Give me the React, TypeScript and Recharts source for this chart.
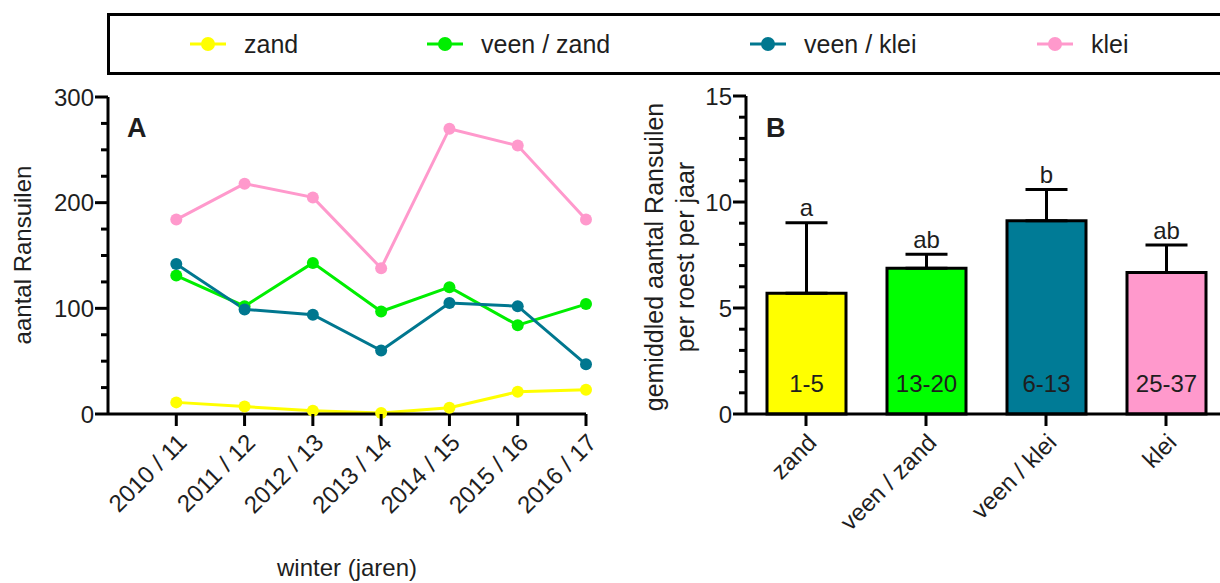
import {
  Bar,
  BarChart,
  Cell,
  ErrorBar,
  LabelList,
  Line,
  LineChart,
  XAxis,
  YAxis,
} from "recharts";

// panel A: number of long-eared owls per winter, per soil type
const WINTERS = ["2010 / 11", "2011 / 12", "2012 / 13", "2013 / 14", "2014 / 15", "2015 / 16", "2016 / 17"];
const ZAND = [11, 7, 3, 1, 6, 21, 23];
const VEEN_ZAND = [131, 102, 143, 97, 120, 84, 104];
const VEEN_KLEI = [142, 99, 94, 60, 105, 102, 47];
const KLEI = [184, 218, 205, 138, 270, 254, 184];
const A_TICKS = [0, 25, 50, 75, 100, 125, 150, 175, 200, 225, 250, 275, 300];

// panel B: mean per roost per year
const SOILS = ["zand", "veen / zand", "veen / klei", "klei"];
const MEANS = [5.7, 6.87, 9.11, 6.67];
const ERRORS = [3.32, 0.66, 1.48, 1.3];
const LETTERS = ["a", "ab", "b", "ab"];
const ROOSTS = ["1-5", "13-20", "6-13", "25-37"];
const B_TICKS = [0, 1, 2, 3, 4, 5, 6, 7, 8, 9, 10, 11, 12, 13, 14, 15];

const SERIES = [
  { key: "zand", name: "zand", line: "#ffff00", bar: "#ffff00", values: ZAND },
  { key: "veenZand", name: "veen / zand", line: "#00ee00", bar: "#00ff00", values: VEEN_ZAND },
  { key: "veenKlei", name: "veen / klei", line: "#00778f", bar: "#007b96", values: VEEN_KLEI },
  { key: "klei", name: "klei", line: "#ff99cc", bar: "#ff99cc", values: KLEI },
];
const LEGEND_X = [190, 427, 750, 1037];

const FONT = "'Liberation Sans', Arial, sans-serif";
const INK = "#1e1e1e";

const lineData = WINTERS.map((_, i) => {
  const row: Record<string, number> = { i };
  SERIES.forEach((s) => (row[s.key] = s.values[i]));
  return row;
});

const barData = SOILS.map((soil, i) => ({
  soil,
  mean: MEANS[i],
  err: [0, ERRORS[i]],
  errTop: ERRORS[i],
  letter: LETTERS[i],
  roost: ROOSTS[i],
}));

function YTick(props: any, majorEvery: number) {
  const { x, y, payload } = props;
  const major = payload.value % majorEvery === 0;
  return (
    <g>
      <line x1={x - (major ? 13 : 7)} x2={x} y1={y} y2={y} stroke="#000" strokeWidth={3} />
      {major && (
        <text x={x - 14} y={y} textAnchor="end" dominantBaseline="central" fontSize={24} fill={INK} fontFamily={FONT}>
          {payload.value}
        </text>
      )}
    </g>
  );
}

function XTick(props: any, label: string) {
  const { x, y } = props;
  const ax = x + 6;
  const ay = y + 24;
  return (
    <g>
      <line x1={x} x2={x} y1={y} y2={y + 12} stroke="#000" strokeWidth={3} />
      <text
        x={ax}
        y={ay}
        textAnchor="end"
        dominantBaseline="central"
        transform={`rotate(-45, ${ax}, ${ay})`}
        fontSize={24}
        fill={INK}
        fontFamily={FONT}
      >
        {label}
      </text>
    </g>
  );
}

const abs = (left: number, top: number): React.CSSProperties => ({ position: "absolute", left, top });
const AXIS_LINE = { stroke: "#000", strokeWidth: 3 };

export default function App() {
  return (
    <div
      style={{
        position: "fixed",
        left: 0,
        top: 0,
        width: 1220,
        height: 583,
        overflow: "hidden",
        background: "#fff",
        fontFamily: FONT,
        color: INK,
      }}
    >
      {/* legend box */}
      <div
        style={{
          ...abs(107, 13),
          width: 1200,
          height: 62,
          border: "3px solid #000",
          boxSizing: "border-box",
        }}
      >
        {SERIES.map((s, i) => (
          <div key={s.key} style={{ ...abs(LEGEND_X[i] - 110, 0), height: 56, display: "flex", alignItems: "center" }}>
            <svg width={36} height={16}>
              <line x1={0} x2={36} y1={8} y2={8} stroke={s.line} strokeWidth={3} />
              <circle cx={18} cy={8} r={7} fill={s.line} />
            </svg>
            <span style={{ marginLeft: 18, fontSize: 25 }}>{s.name}</span>
          </div>
        ))}
      </div>

      {/* panel A */}
      <div style={abs(0, 0)}>
        <LineChart width={620} height={583} data={lineData} margin={{ top: 97, left: 107, right: 34, bottom: 168 }}>
          <XAxis
            dataKey="i"
            type="number"
            domain={[-1, 6]}
            ticks={[0, 1, 2, 3, 4, 5, 6]}
            height={1}
            tickSize={0}
            tickMargin={0}
            axisLine={AXIS_LINE}
            tick={(p: any) => XTick(p, WINTERS[p.payload.value])}
            interval={0}
          />
          <YAxis
            type="number"
            domain={[0, 300]}
            ticks={A_TICKS}
            width={1}
            tickSize={0}
            tickMargin={0}
            axisLine={AXIS_LINE}
            tick={(p: any) => YTick(p, 100)}
            interval={0}
          />
          {SERIES.map((s) => (
            <Line
              key={s.key}
              dataKey={s.key}
              type="linear"
              stroke={s.line}
              strokeWidth={3}
              dot={{ r: 6, fill: s.line, stroke: s.line, strokeWidth: 0 }}
              isAnimationActive={false}
            />
          ))}
        </LineChart>
      </div>
      <div style={{ ...abs(127, 113), fontSize: 27, fontWeight: "bold" }}>A</div>
      <div
        style={{
          ...abs(23, 255),
          fontSize: 24,
          whiteSpace: "nowrap",
          transform: "translate(-50%, -50%) rotate(-90deg)",
        }}
      >
        aantal Ransuilen
      </div>
      <div style={{ ...abs(347, 568), fontSize: 24, whiteSpace: "nowrap", transform: "translate(-50%, -50%)" }}>
        winter (jaren)
      </div>

      {/* panel B */}
      <div style={abs(620, 0)}>
        <BarChart width={620} height={583} data={barData} margin={{ top: 96, left: 125, right: 14, bottom: 168 }}>
          <XAxis
            dataKey="soil"
            height={1}
            tickSize={0}
            tickMargin={0}
            axisLine={AXIS_LINE}
            tick={(p: any) => XTick(p, p.payload.value)}
            interval={0}
          />
          <YAxis
            type="number"
            domain={[0, 15]}
            ticks={B_TICKS}
            width={1}
            tickSize={0}
            tickMargin={0}
            axisLine={AXIS_LINE}
            tick={(p: any) => YTick(p, 5)}
            interval={0}
          />
          <Bar dataKey="mean" barSize={79} stroke="#000" strokeWidth={3} isAnimationActive={false}>
            {barData.map((d, i) => (
              <Cell key={d.soil} fill={SERIES[i].bar} />
            ))}
            <ErrorBar dataKey="err" width={21} stroke="#000" strokeWidth={3} direction="y" isAnimationActive={false} />
            <LabelList
              dataKey="roost"
              content={(p: any) => (
                <text
                  x={p.x + p.width / 2}
                  y={p.y + p.height - 31}
                  textAnchor="middle"
                  dominantBaseline="central"
                  fontSize={24}
                  fill={INK}
                  fontFamily={FONT}
                >
                  {p.value}
                </text>
              )}
            />
            <LabelList
              dataKey="letter"
              content={(p: any) => {
                const d = barData[p.index];
                const top = p.y - (d.errTop * p.height) / d.mean;
                return (
                  <text
                    x={p.x + p.width / 2}
                    y={top - 15}
                    textAnchor="middle"
                    dominantBaseline="central"
                    fontSize={24}
                    fill={INK}
                    fontFamily={FONT}
                  >
                    {p.value}
                  </text>
                );
              }}
            />
          </Bar>
        </BarChart>
      </div>
      <div style={{ ...abs(766, 113), fontSize: 27, fontWeight: "bold" }}>B</div>
      <div
        style={{
          ...abs(670, 257),
          fontSize: 25,
          lineHeight: "31px",
          textAlign: "center",
          whiteSpace: "nowrap",
          transform: "translate(-50%, -50%) rotate(-90deg)",
        }}
      >
        gemiddled aantal Ransuilen
        <br />
        per roest per jaar
      </div>
    </div>
  );
}
